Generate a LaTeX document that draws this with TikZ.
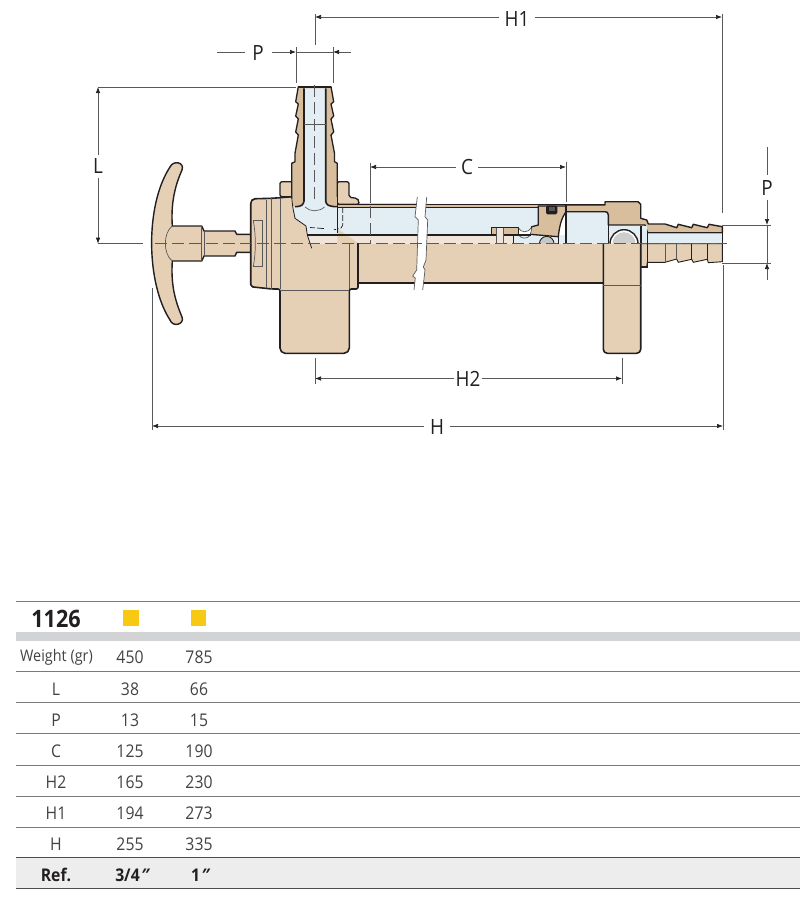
\documentclass[tikz,border=0pt]{standalone}
\usepackage{fontspec}
\setmainfont[FakeStretch=0.9]{Open Sans}
\usetikzlibrary{calc,arrows.meta}
\newcommand{\inchmark}{{\addfontfeature{FakeSlant=0.3}"}}
\definecolor{tan1}{HTML}{E5D0B6}
\definecolor{tan2}{HTML}{D9BE9E}
\definecolor{tan3}{HTML}{F1E5DA}
\definecolor{ice}{HTML}{E3EEF4}
\definecolor{ink}{HTML}{231F20}
\definecolor{dimgrey}{HTML}{58595B}
\definecolor{band}{HTML}{D1D3D4}
\definecolor{refband}{HTML}{EDEDEE}
\definecolor{signal}{HTML}{F8C913}
\tikzset{
	outline/.style={draw=ink, line width=1.6pt, line join=round},
	thinline/.style={draw=dimgrey, line width=0.7pt},
	centerline/.style={draw=dimgrey, line width=0.7pt, dash pattern=on 12pt off 5pt},
	dimline/.style={draw=dimgrey, line width=0.7pt},
	dimarrow/.style={draw=dimgrey, line width=0.7pt, -{Latex[length=6pt,width=4.5pt,color=ink]}},
	dimlabel/.style={font=\fontsize{21}{21}\selectfont, text=ink, inner sep=0pt},
	cell/.style={font=\fontsize{17.5}{18}\selectfont, text=ink!85, inner sep=0pt},
	cellbold/.style={font=\fontsize{17.5}{18}\selectfont\bfseries, text=ink, inner sep=0pt},
	rowline/.style={draw=dimgrey!80, line width=0.9pt},
	swatch/.style={fill=signal, draw=none, minimum size=15.5pt, inner sep=0pt}
}
\begin{document}
\begin{tikzpicture}[x=1pt,y=-1pt]
	\useasboundingbox (0,0) rectangle (800,900);
	
	% T handle
	\draw[outline, fill=tan1, line width=1.4pt] (250.7,234.3) -- (236.7,234.3) -- (235,231) -- (204,231) -- (201.7,226) -- (172.3,226)
	.. controls (171,205) and (174,188) .. (182,170) .. controls (185,162) and (173,160) .. (170,167)
	.. controls (145,205) and (146,283) .. (170,320) .. controls (173,328) and (185,324) .. (182,317)
	.. controls (174,298) and (171,283) .. (172.3,261) -- (201.7,261) -- (204,256) -- (235,256) -- (236.7,252.3) -- (250.7,252.3);
	\draw[thinline] (172.3,226) .. controls (163,233) and (163,254) .. (172.3,261);
	\draw[thinline] (201.7,226) -- (201.7,261) (204,231) -- (204,256);
	
	% main tube, left part
	\fill[tan1] (337,203) rectangle (418,283);
	\fill[ice] (337.3,206.7) rectangle (418,235);
	\fill[tan3] (311,235) rectangle (418,244);
	\fill[tan2] (337.3,203.5) rectangle (418,206.7);
	% main tube, right part
	\fill[tan1] (423,244) rectangle (604,283);
	\fill[ice] (423,206.7) rectangle (539,235);
	\fill[tan3] (423,235) rectangle (514,244);
	\fill[tan2] (423,203.5) rectangle (604,206.7);
	
	% head of the valve
	\draw[outline, fill=tan1, rounded corners=2pt] (291.7,196.7) -- (280,197.7) -- (271.7,198.3) -- (253,198.8) -- (250.7,201.7) -- (250.7,286.7) -- (271.7,289) -- (280,289) -- (280,350) -- (283,353.3) -- (346,353.3) -- (349.3,350) -- (349.3,289) -- (358,289) -- (358,243);
	\draw[thinline] (266.7,200) -- (266.7,288) (271.7,198.3) -- (271.7,289) (280,197.7) -- (280,289) (280,290) -- (349.3,290) (349.3,244) -- (349.3,289);
	\draw[thinline] (253.3,220.7) -- (262.7,220.7) -- (262.7,266.7) -- (253.3,266.7);
	\draw[thinline] (253.3,220.7) .. controls (256,235) and (256,252) .. (253.3,266.7);
	
	% nuts
	\draw[outline, fill=tan1, rounded corners=2pt, line width=1.3pt] (291.7,196.7) -- (280,196.7) -- (280,181.7) -- (291.7,181.7);
	\draw[outline, fill=tan1, rounded corners=2pt, line width=1.3pt] (337.3,181.7) -- (349,181.7) -- (349,197.3) -- (357.3,198.3) -- (359,201) -- (359,204.3) -- (337.3,204.3) -- cycle;
	
	% hose nipple on top
	\draw[outline, fill=tan2, line width=1.3pt] (291.7,198.3) -- (291.7,163.3) -- (295,161.7) -- (295,153.3) -- (298.3,135) -- (295.7,132) -- (298.3,119) -- (295.7,116) -- (298.3,104) -- (295.7,101.7) -- (298.3,86.7) -- (331,86.7) -- (333.7,101.7) -- (331,104) -- (333.7,116) -- (331,119) -- (333.7,132) -- (331,135) -- (334.5,153.3) -- (334.5,161.7) -- (337.3,163.3) -- (337.3,204);
	\fill[tan2] (292.5,197) rectangle (337,206);
	
	% water way
	\path[fill=ice] (292.7,206.7) -- (300,206.7) -- (304,203) -- (304,88.3) -- (325.7,88.3) -- (325.7,203) -- (330,206.7) -- (337.3,206.7) -- (337.3,235) -- (307.3,235) -- (306,226) -- (295,218.3) -- cycle;
	\fill[tan3] (307.3,235) -- (337.3,235) -- (337.3,244) -- (310,244) -- cycle;
	\draw[outline] (304,88.3) -- (304,201) .. controls (303.5,205) and (301,206.7) .. (295,206.7);
	\draw[outline] (325.7,88.3) -- (325.7,201) .. controls (326,205) and (329,206.7) .. (337.3,206.7);
	\draw[outline] (298.3,87) -- (331,87);
	\draw[thinline] (304,124) -- (325.7,124);
	\draw[thinline] (305,207) .. controls (310,212) and (319,212) .. (324.5,207);
	\draw[draw=ink, line width=0.8pt] (291.7,197) -- (292.7,206.7) -- (295,218.3) -- (306,226) -- (307.3,235) -- (311.7,248.3);
	\draw[draw=ink, line width=0.7pt, dash pattern=on 5pt off 2pt on 7pt off 10pt] (310,227.5) -- (336,229.5);
	\draw[draw=ink, line width=0.7pt, dash pattern=on 6pt off 2pt] (342.7,207) -- (342.7,225) .. controls (342.7,228) and (340,229) .. (337.3,229);
	\draw[outline] (337.3,204.3) -- (337.3,233.3);
	
	% tube edges
	\draw[outline] (337.3,204.3) -- (605,204.3);
	\draw[outline] (307.3,235) -- (491.7,235);
	\draw[outline] (358,243.3) -- (358,282.7) -- (603.3,282.7);
	\draw[draw=ink, line width=0.6pt] (337.3,207) -- (539,207);
	
	% plug with seal
	\fill[ice] (513,235) rectangle (566,243.7);
	\draw[outline, fill=tan2, line width=1.3pt] (538.3,206) -- (538.3,225) -- (531.7,226.7) -- (530,234.3) -- (558.3,236.7) .. controls (559.5,225) and (562,217) .. (566,211.7) -- (566,206) -- cycle;
	\fill[ink, rounded corners=1.5pt] (546,205.5) rectangle (557.3,214.3);
	\fill[ink!75] (548.5,207) rectangle (555,211);
	\fill[white] (518.3,228.5) .. controls (522,232) and (527,232) .. (531.5,228.5) -- (530,234.3) -- (518.3,234.3) -- cycle;
	\draw[thinline] (518.3,228) .. controls (522,233) and (527,233) .. (531.5,228);
	\draw[thinline] (519,235.5) .. controls (522,239) and (527,239) .. (530,235.5);
	\draw[outline, fill=tan2, line width=1.3pt] (491.7,234.3) -- (491.7,227.3) -- (518.3,227.3) -- (518.3,234.3) -- cycle;
	\draw[draw=ink, line width=1.5pt] (491.7,235) -- (531,235);
	\fill[tan3] (496.7,228.2) rectangle (503.3,243.7);
	\fill[tan3] (506,235.8) rectangle (513,243.7);
	\draw[thinline] (496.7,228.2) -- (496.7,243.7) (503.3,228.2) -- (503.3,243.7);
	\draw[draw=ink, line width=1.7pt] (513.5,235) -- (513.5,244);
	\draw[ink, line width=0.9pt, fill=ink!25] (539.4,243.7) arc (180:360:7.3);
	\draw[draw=ink, line width=1.5pt] (558.3,236) -- (558.3,244);
	
	% right block
	\fill[ice] (566,211.7) rectangle (607.5,244);
	\draw[outline, fill=tan2, line width=1.4pt, line join=round] (566,205) -- (605,205) -- (605,201.7) -- (638,201.7) -- (640.7,204.3) -- (640.7,218.3) -- (646.7,220) -- (648.3,224) -- (665,224) -- (676.7,227.7) -- (678.3,224.3) -- (691.7,227.7) -- (693.3,224.3) -- (707.3,227.7) -- (709,224.3) -- (722.3,226.7) -- (722.3,232.7) -- (647.5,232.7) -- (645,225) -- (608.3,225) -- (608.3,215) .. controls (608.3,212.5) and (607,211.7) .. (605,211.7) -- (566,211.7) -- cycle;
	\fill[ice] (609.2,225.8) rectangle (646.5,244);
	\fill[ice] (648.3,233.7) rectangle (721.6,243.7);
	\draw[draw=ink, line width=1.4pt, fill=white] (610,243.7) arc (180:360:14);
	\fill[ink!22] (612.5,243.7) arc (180:360:11.5);
	\draw[outline, line width=1.7pt] (566,205) -- (566,244);
	
	% lower half of right end, with foot
	\draw[draw=ink, line width=0.9pt, fill=tan1] (640.7,243.7) -- (640.7,266.7) -- (646.7,266.7) -- (647.3,262.3) -- (665,262.3) -- (676.7,259) -- (678.3,262.3) -- (691.7,259.3) -- (693.3,262.3) -- (707.3,259.3) -- (708.3,262.7) -- (722.3,261.7) -- (722.3,243.7) -- cycle;
	\draw[draw=ink, line width=1.6pt] (722.3,226.7) -- (722.3,261.7);
	\draw[draw=ink, line width=1.6pt] (647.5,232.7) -- (647.5,266.7) -- (640.7,266.7);
	\draw[draw=ink, line width=1.5pt] (608.3,225) -- (608.3,244);
	\draw[draw=ink, line width=1.3pt] (641,226) -- (641,244);
	\draw[thinline] (665,244) -- (665,262) (676.7,244) -- (676.7,259);
	\draw[draw=ink, line width=1.3pt] (691.7,244) -- (691.7,260);
	\draw[draw=ink, line width=0.9pt] (707.3,244) -- (707.3,260);
	\draw[outline, fill=tan1, rounded corners=4pt] (603.3,244) -- (603.3,353.3) -- (640.7,353.3) -- (640.7,244);
	\draw[thinline] (603.3,285) -- (640.7,285);
	
	% break in the tube
	\fill[white] (417.3,197) -- (415,216.7) -- (418.3,220) -- (416.7,270) -- (412.7,276) -- (415.3,278) -- (414,290) -- (422.7,290) -- (425,270) -- (423.3,267) -- (426,260) -- (427.7,220) -- (425,216.7) -- (426.7,197) -- cycle;
	\draw[thinline] (417.3,197) -- (415,216.7) -- (418.3,220) -- (416.7,270) -- (412.7,276) -- (415.3,278) -- (414,290);
	\draw[thinline] (426.7,197) -- (425,216.7) -- (427.7,220) -- (426,260) -- (423.3,267) -- (425,270) -- (422.7,290);
	
	% center lines
	\draw[centerline] (155,243.7) -- (727,243.7);
	\draw[centerline] (314.7,85) -- (314.7,200);
	\draw[centerline] (370,206) -- (370,244);
	
	% dimension H1
	\coordinate (H1a) at (315,17);
	\coordinate (H1b) at (722,17);
	\node[dimlabel] (labH1) at (517,19) {H1};
	\draw[dimarrow] (labH1.west) ++(-5,-2) -- (H1a);
	\draw[dimarrow] (labH1.east) ++(5,-2) -- (H1b);
	\draw[dimline] (315,14) -- (315,45);
	\draw[dimline] (722,14) -- (722,213);
	
	% dimension P, top
	\coordinate (Pa) at (296,52);
	\coordinate (Pb) at (333,52);
	\node[dimlabel] (labP) at (258,53) {P};
	\draw[dimline] (217,52) -- (245,52);
	\draw[dimarrow] (272,52) -- (Pa);
	\draw[dimline] (Pa) -- (Pb);
	\draw[dimarrow] (351,52) -- (Pb);
	\draw[dimline] (296,47) -- (296,83) (333,47) -- (333,83);
	
	% dimension L
	\coordinate (La) at (98,87);
	\coordinate (Lb) at (98,243.7);
	\node[dimlabel] (labL) at (98,166) {L};
	\draw[dimarrow] (labL.north) ++(0,-3) -- (La);
	\draw[dimarrow] (labL.south) ++(0,4) -- (Lb);
	\draw[dimline] (La) -- (296,87);
	\draw[dimline] (Lb) -- (143,243.7);
	
	% dimension C
	\coordinate (Ca) at (370,167);
	\coordinate (Cb) at (566,167);
	\node[dimlabel] (labC) at (467,167) {C};
	\draw[dimarrow] (labC.west) ++(-5,0) -- (Ca);
	\draw[dimarrow] (labC.east) ++(5,0) -- (Cb);
	\draw[dimline] (370,163) -- (370,203) (566,162) -- (566,202);
	
	% dimension H2
	\coordinate (H2a) at (315,378.5);
	\coordinate (H2b) at (622,378.5);
	\node[dimlabel] (labH2) at (468,379) {H2};
	\draw[dimarrow] (labH2.west) ++(-1,-0.5) -- (H2a);
	\draw[dimarrow] (labH2.east) ++(1,-0.5) -- (H2b);
	\draw[dimline] (315,358) -- (315,384) (622,358) -- (622,384);
	
	% dimension H
	\coordinate (Ha) at (152,426);
	\coordinate (Hb) at (723,426);
	\node[dimlabel] (labH) at (437,427) {H};
	\draw[dimarrow] (labH.west) ++(-6,-1) -- (Ha);
	\draw[dimarrow] (labH.east) ++(6,-1) -- (Hb);
	\draw[dimline] (152,288) -- (152,430) (723,265) -- (723,430);
	
	% dimension P, right
	\coordinate (Qa) at (767,225);
	\coordinate (Qb) at (767,263);
	\node[dimlabel] (labQ) at (767,188) {P};
	\draw[dimarrow] (labQ.south) ++(0,4) -- (Qa);
	\draw[dimline] (767,147) -- (767,175);
	\draw[dimline] (Qa) -- (Qb);
	\draw[dimarrow] (767,280) -- (Qb);
	\draw[dimline] (722,225) -- (771,225) (722,263) -- (771,263);
	
	% table
	\fill[band] (16,632) rectangle (800,640.5);
	\fill[refband] (16,858) rectangle (800,888);
	\draw[rowline] (16,601) -- (800,601);
	\foreach \y in {671,702,733,765,796,827} {
		\draw[rowline] (16,\y) -- (800,\y);
	}
	\draw[draw=ink!80, line width=1.2pt] (16,857.5) -- (800,857.5);
	\draw[draw=ink!80, line width=1.2pt] (16,888.5) -- (800,888.5);
	\node[font=\fontsize{24}{24}\selectfont\bfseries, text=ink, inner sep=0pt] (title) at (56,618.5) {1126};
	\node[swatch] (swatchA) at (131,618) {};
	\node[swatch] (swatchB) at (198.7,618) {};
	\node[cell, font=\fontsize{16}{18}\selectfont] (weight) at (56.5,657.5) {Weight (gr)};
	\node[cell] at (130,657.5) {450};
	\node[cell] at (199,657.5) {785};
	\foreach \lab/\a/\b/\y in {L/38/66/689,P/13/15/720,C/125/190/751,H2/165/230/782,H1/194/273/813,H/255/335/844} {
		\node[cell] at (56,\y) {\lab};
		\node[cell] at (130,\y) {\a};
		\node[cell] at (199,\y) {\b};
	}
	\node[cellbold] (refA) at (56,875) {Ref.};
	\node[cellbold] (refB) at (131,875) {3/4\inchmark};
	\node[cellbold] (refC) at (199,875) {1\inchmark};
\end{tikzpicture}
\end{document}
